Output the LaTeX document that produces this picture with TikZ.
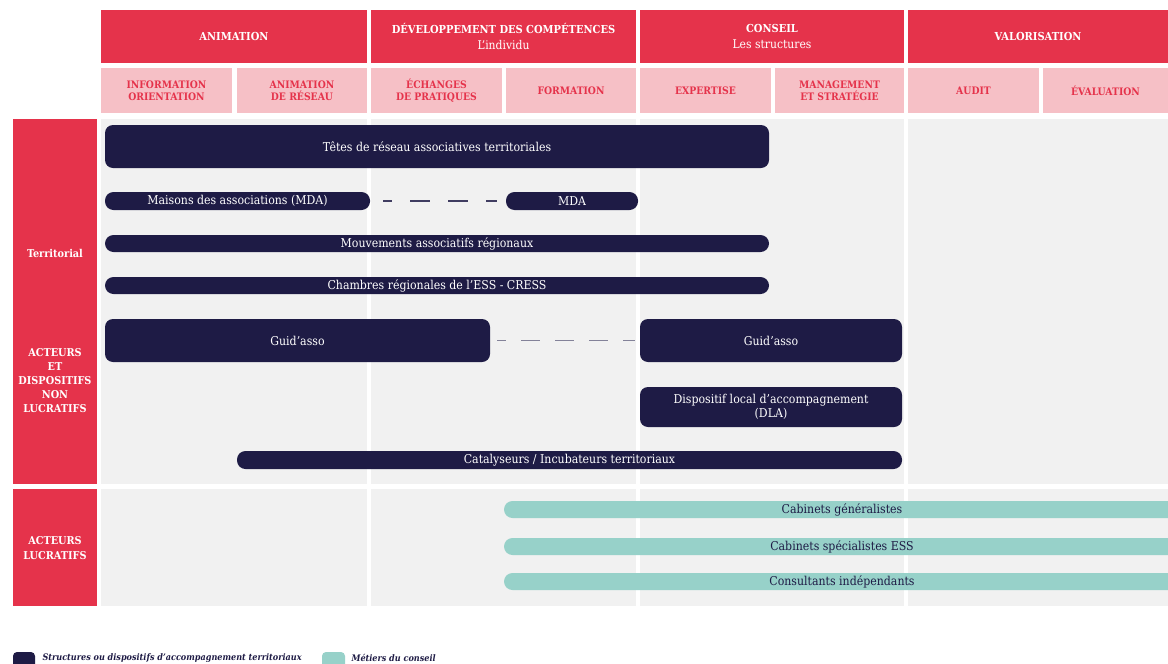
\documentclass[tikz,border=0pt]{standalone}
\usepackage{fontspec}
\setmainfont{DejaVu Serif Condensed}
\definecolor{redhead}{HTML}{E5334B}
\definecolor{pinkhead}{HTML}{F6C0C6}
\definecolor{cellgray}{HTML}{F1F1F1}
\definecolor{navy}{HTML}{1E1B45}
\definecolor{mintbar}{HTML}{97D1C9}

\begin{document}
\begin{tikzpicture}[x=1pt,y=-1pt,
    font=\fontsize{12.2}{14.2}\selectfont,
    % styles
    box/.style={inner sep=0pt,outer sep=0pt,anchor=north west,align=center},
    main head/.style={box,fill=redhead,text=white,
      font=\fontsize{11}{16}\selectfont\bfseries},
    sub head/.style={box,fill=pinkhead,text=redhead,
      font=\fontsize{10.3}{12}\selectfont\bfseries},
    side head/.style={box,fill=redhead},
    side label/.style={text=white,align=center,
      font=\fontsize{10.8}{14.2}\selectfont\bfseries},
    cell/.style={box,fill=cellgray},
    territorial/.style={box,fill=navy,text=white,rounded corners=8pt},
    pill/.style={territorial,rounded corners=8.5pt},
    conseil/.style={box,fill=mintbar,text=navy,rounded corners=8.5pt,
      minimum height=17pt},
    link/.style={navy!85,line width=1.4pt,dash pattern=on 20pt off 18pt},
    legend text/.style={anchor=west,text=navy,
      font=\fontsize{9}{11}\selectfont\bfseries\itshape}]

  % page
  \fill[white] (0,0) rectangle (1168,664);
  \clip (0,0) rectangle (1168,664);

  % header
  \node[main head,minimum width=266pt,minimum height=53pt] (animation) at (101,10) {ANIMATION};
  \node[main head,minimum width=265pt,minimum height=53pt] (competences) at (371,10)
    {DÉVELOPPEMENT DES COMPÉTENCES\\\mdseries\fontsize{12}{16}\selectfont L'individu};
  \node[main head,minimum width=264pt,minimum height=53pt] (conseil) at (640,10)
    {CONSEIL\\\mdseries\fontsize{12}{16}\selectfont Les structures};
  \node[main head,minimum width=260pt,minimum height=53pt] (valorisation) at (908,10) {VALORISATION};

  \node[sub head,minimum width=131pt,minimum height=45pt] (information) at (101,68) {INFORMATION\\ORIENTATION};
  \node[sub head,minimum width=130pt,minimum height=45pt] (reseau) at (237,68) {ANIMATION\\DE RÉSEAU};
  \node[sub head,minimum width=131pt,minimum height=45pt] (echanges) at (371,68) {ÉCHANGES\\DE PRATIQUES};
  \node[sub head,minimum width=130pt,minimum height=45pt] (formation) at (506,68) {FORMATION};
  \node[sub head,minimum width=131pt,minimum height=45pt] (expertise) at (640,68) {EXPERTISE};
  \node[sub head,minimum width=129pt,minimum height=45pt] (management) at (775,68) {MANAGEMENT\\ET STRATÉGIE};
  \node[sub head,minimum width=131pt,minimum height=45pt] (audit) at (908,68) {AUDIT};
  \node[sub head,minimum width=125pt,minimum height=45pt] (evaluation) at (1043,68) {ÉVALUATION};

  % rows
  \node[side head,minimum width=84pt,minimum height=365pt] (nonlucratifs) at (13,119) {};
  \node[side head,minimum width=84pt,minimum height=117pt] (lucratifs) at (13,489) {};
  \node[side label] (territoriallabel) at (55,253) {Territorial};
  \node[side label] (nonlucratifslabel) at (55,380.5) {ACTEURS\\ET\\DISPOSITIFS\\NON\\LUCRATIFS};
  \node[side label] (lucratifslabel) at (55,548) {ACTEURS\\LUCRATIFS};

  % cells
  \foreach \x/\w in {101/266,371/265,640/264,908/260} {
    \node[cell,minimum width=\w pt,minimum height=365pt] at (\x,119) {};
    \node[cell,minimum width=\w pt,minimum height=117pt] at (\x,489) {};
  }

  % territorial structures
  \node[territorial,minimum width=664pt,minimum height=43pt] (tetes) at (105,125)
    {Têtes de réseau associatives territoriales};
  \node[pill,minimum width=265pt,minimum height=18pt] (mda) at (105,192)
    {Maisons des associations (MDA)};
  \node[pill,minimum width=132pt,minimum height=18pt] (mdaformation) at (506,192) {MDA};
  \node[pill,minimum width=664pt,minimum height=17pt] (mouvements) at (105,235)
    {Mouvements associatifs régionaux};
  \node[pill,minimum width=664pt,minimum height=17pt] (cress) at (105,277)
    {Chambres régionales de l'ESS - CRESS};
  \node[territorial,minimum width=385pt,minimum height=43pt] (guidasso) at (105,319) {Guid'asso};
  \node[territorial,minimum width=262pt,minimum height=43pt] (guidassoconseil) at (640,319) {Guid'asso};
  \node[territorial,minimum width=262pt,minimum height=40pt] (dla) at (640,387)
    {Dispositif local d'accompagnement\\(DLA)};
  \node[pill,minimum width=665pt,minimum height=18pt] (catalyseurs) at (237,451)
    {Catalyseurs / Incubateurs territoriaux};

  % links
  \draw[link,dash phase=11pt,shorten <=13pt,shorten >=9pt] (mda.east) -- (mdaformation.west);
  \draw[link,navy!55,dash pattern=on 19pt off 15pt,dash phase=10pt,shorten <=7pt,shorten >=5pt]
    (guidasso.east) -- (guidassoconseil.west);

  % consulting
  \node[conseil,minimum width=676pt] (generalistes) at (504,501) {Cabinets généralistes};
  \node[conseil,minimum width=676pt] (specialistes) at (504,538) {Cabinets spécialistes ESS};
  \node[conseil,minimum width=676pt] (consultants) at (504,573) {Consultants indépendants};

  % legend
  \node[box,fill=navy,rounded corners=4pt,minimum width=22pt,minimum height=18pt] (legterritorial) at (13,652) {};
  \node[legend text] (legterritorialtext) at ([xshift=4pt,yshift=-6pt]legterritorial.north east)
    {Structures ou dispositifs d'accompagnement territoriaux};
  \node[box,fill=mintbar,rounded corners=4pt,minimum width=23pt,minimum height=18pt] (legconseil) at (322,652) {};
  \node[legend text] (legconseiltext) at ([xshift=3pt,yshift=-6pt]legconseil.north east)
    {Métiers du conseil};
\end{tikzpicture}
\end{document}
